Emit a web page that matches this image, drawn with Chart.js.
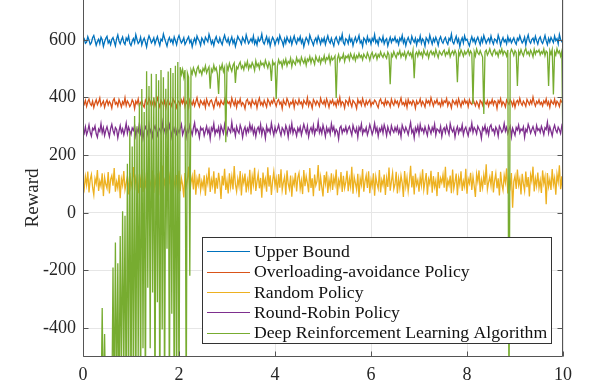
<!DOCTYPE html>
<html>
<head>
<meta charset="utf-8">
<script src="https://cdn.jsdelivr.net/npm/chart.js@4"></script>
<style>html,body{margin:0;padding:0;background:#fff;}canvas{display:block;}</style>
</head>
<body>
<canvas id="c" width="600" height="390"></canvas>
<script>
const xTicks = [0, 2, 4, 6, 8, 10];
const yTicks = [-400, -200, 0, 200, 400, 600];
const yAxisTitle = 'Reward';
const seriesNames = ['Upper Bound', 'Overloading-avoidance Policy', 'Random Policy', 'Round-Robin Policy', 'Deep Reinforcement Learning Algorithm'];
const seriesColors = ['#0072BD', '#D95319', '#EDB120', '#7E2F8E', '#77AC30'];
const xStep = 0.025;

const upperBound = [
596,603,588,592,611,599,584,590,607,615,598,581,594,602,587,609,600,577,593,605,
612,589,597,583,601,608,594,579,603,617,596,586,599,610,591,584,606,598,613,588,
580,595,604,590,618,601,587,593,609,582,597,606,592,575,600,614,603,589,596,607,
585,599,611,594,580,602,596,620,605,591,578,598,608,593,601,586,610,597,583,604,
615,600,589,596,607,584,592,603,611,590,599,576,594,605,588,613,602,595,581,606,
598,587,609,601,593,619,604,586,597,580,600,611,594,589,606,592,583,603,616,599,
591,605,584,597,610,588,600,577,594,612,603,596,585,608,599,590,617,601,587,595,
604,592,613,586,598,582,607,595,601,620,593,585,599,611,589,604,578,596,609,600,
583,597,606,590,615,602,594,579,603,588,610,598,591,607,584,600,613,595,586,605,
597,611,589,601,576,594,608,599,587,616,603,592,581,598,606,590,612,600,585,603,
593,607,584,600,614,596,588,605,591,579,602,610,595,586,608,598,619,590,583,604,
599,587,612,594,603,580,597,609,592,601,615,589,596,577,606,600,588,611,594,602,
585,605,596,618,590,599,583,607,601,593,611,586,598,604,579,595,609,591,603,597,
610,592,600,584,606,597,615,589,602,580,598,608,594,587,612,599,591,605,582,601,
594,613,588,603,596,578,607,600,590,616,599,585,604,593,609,597,581,602,611,595,
588,601,608,592,584,605,598,620,593,586,600,612,591,603,577,596,607,589,614,598,
602,590,579,597,611,594,604,587,600,609,595,583,606,592,615,601,588,598,605,591,
613,596,585,603,599,590,616,602,581,597,608,593,600,586,611,594,604,589,598,607,
592,584,605,598,614,600,589,596,609,582,603,617,595,588,601,606,591,612,597,585,
603,610,594,587,600,615,596,583,605,592,608,599,590,613,597,604,586,618,601,594,
599];

const overloadingAvoidance = [
383,376,390,369,385,394,378,372,387,365,381,392,375,384,398,371,380,388,366,382,
391,374,386,379,363,389,396,377,383,370,393,381,367,385,376,399,372,388,380,368,
376,392,384,361,387,378,395,370,382,389,374,366,391,383,377,397,386,369,380,394,
371,385,398,379,367,390,382,374,388,362,384,393,376,381,370,396,387,378,365,389,
384,373,391,380,396,369,386,377,364,392,383,375,389,371,385,399,379,368,390,382,
375,388,366,394,381,372,387,391,378,363,385,397,374,383,369,390,380,376,393,367,
389,379,385,370,398,384,373,391,366,387,380,395,372,382,376,361,388,394,377,384,
368,392,381,376,389,364,386,398,375,383,371,390,379,367,394,385,373,388,380,396,
382,370,387,393,377,384,362,391,380,374,396,386,369,383,378,392,365,389,381,375,
394,378,384,367,390,382,376,399,371,386,379,363,393,385,374,388,381,370,397,383,
377,389,372,395,383,366,388,380,392,375,384,369,391,378,400,372,386,381,364,390,
385,374,397,381,368,390,384,377,362,393,380,387,373,396,382,370,389,376,385,392,
370,383,378,391,386,374,365,388,395,379,383,371,392,376,387,381,368,394,380,373,
391,380,387,369,384,398,376,382,372,389,366,393,379,385,374,390,383,363,388,377,
382,395,373,386,378,367,392,381,388,375,399,384,370,387,380,393,376,382,369,391,
374,388,383,396,371,385,379,364,391,384,376,389,372,395,381,368,387,378,393,380,
387,369,392,380,376,394,383,371,386,378,365,390,384,373,398,382,377,389,370,385,
379,393,375,388,384,362,389,381,396,372,385,379,367,391,383,376,392,385,371,388,
366,384,390,377,397,381,373,387,380,369,393,384,375,389,378,401,382,370,386,379,
392,376,383,371,388,380,395,374,385,366,390,382,377,394,372,387,381,369,391,384,
383];

const randomPolicy = [
104,82,126,97,143,71,115,133,88,62,119,101,148,76,110,92,137,58,123,99,
85,141,67,116,129,94,155,73,108,86,132,51,118,96,145,80,103,127,64,139,
90,112,159,78,121,100,68,134,87,150,72,113,95,142,55,124,106,83,147,69,
117,93,136,61,128,102,164,79,111,89,140,57,125,98,74,152,107,84,131,66,
146,75,120,97,53,138,91,114,160,70,105,127,81,149,63,118,96,135,77,109,
88,130,59,123,101,157,72,115,93,144,66,121,84,139,105,48,128,95,153,79,
111,67,137,90,126,81,162,99,74,118,92,145,60,124,103,136,71,113,87,149,
64,127,98,156,76,108,135,85,121,52,140,96,117,73,158,91,130,62,110,143,
94,119,70,134,87,151,78,106,125,63,147,100,82,129,56,116,97,139,74,122,
138,83,112,65,148,92,127,104,71,155,86,120,58,133,95,110,166,77,124,89,
57,131,101,143,69,115,88,137,79,122,99,150,61,113,94,141,72,128,85,106,
146,75,118,91,160,66,124,103,80,135,54,119,97,152,73,109,130,86,144,68,
115,93,137,59,126,101,84,148,71,114,96,133,62,121,90,157,77,108,139,82,
99,142,67,118,86,130,104,55,145,92,123,75,111,163,88,128,64,136,97,113,
73,125,95,151,80,109,138,63,117,100,146,70,127,90,112,58,141,85,120,104,
132,87,160,74,113,96,129,68,150,83,107,136,61,122,98,144,76,110,91,153,
66,118,102,139,79,126,93,55,134,108,147,72,115,88,131,97,168,81,106,125,
94,145,71,112,137,85,120,60,142,99,78,130,105,154,67,116,91,138,18,109,
128,83,150,96,117,64,135,101,76,143,89,124,57,132,110,160,74,119,93,140,
86,113,69,147,102,125,30,138,91,116,79,152,98,121,63,134,107,165,82,127,
60];

const roundRobin = [
288,276,298,271,284,305,279,266,293,287,301,274,262,290,282,309,277,295,268,286,
299,281,264,292,307,285,273,296,289,260,283,302,278,291,270,288,311,276,297,284,
272,294,286,303,267,289,280,310,275,293,258,284,298,287,271,306,279,292,265,290,
301,283,269,295,288,276,313,282,290,266,297,279,305,286,263,293,281,299,274,288,
278,292,307,271,285,298,264,289,280,303,286,270,294,312,277,291,283,261,296,287,
293,268,284,300,276,290,257,295,285,309,272,288,280,297,266,302,289,275,306,282,
270,296,288,279,314,283,291,267,299,284,276,304,290,262,287,298,273,293,281,308,
286,301,274,292,265,289,297,280,306,271,294,285,259,300,282,291,277,311,288,269,
297,279,290,305,283,268,295,287,274,302,289,263,298,281,310,276,292,284,267,294,
282,298,270,288,307,291,277,300,264,286,296,279,303,272,290,285,315,278,293,275,
304,287,265,296,280,292,273,309,285,298,271,289,282,256,294,301,276,290,283,299,
277,291,300,284,269,303,288,279,294,262,297,286,308,274,289,281,296,270,285,306,
290,272,287,310,281,295,266,292,283,300,277,305,290,268,298,284,273,302,287,279,
296,283,299,275,289,264,304,291,280,297,286,271,293,313,278,288,260,295,282,301,
273,306,285,292,277,298,283,268,301,289,275,296,284,307,270,291,287,279,299,265,
288,295,278,302,286,272,309,290,281,294,263,287,299,276,292,284,305,271,289,297,
280,267,293,285,311,279,296,288,274,300,291,282,258,295,286,303,277,292,270,298,
305,284,290,273,297,288,266,301,292,279,287,310,283,296,275,289,300,264,293,281,
269,296,287,304,278,291,285,298,262,290,281,307,294,276,288,299,284,272,303,286,
292,279,300,287,271,295,289,314,277,298,283,267,291,304,286,278,297,288,275,301,
286];

const deepRL = [
-700,-700,-700,-700,-700,-700,-700,-700,-700,-700,
-700,-700,-700,-700,-700,-700,-330,-700,-420,-700,
-700,-700,-700,-700,-700,-190,-700,-103,-650,-175,
-700,-80,-600,5,-560,-10,-700,170,-640,284,
-700,230,-660,336,-700,300,-520,380,-700,429,
-470,350,-700,491,-260,440,-470,482,-276,400,
-700,481,-310,460,-700,495,-405,470,-700,430,
-125,490,-700,502,-350,485,-700,510,-700,523,
-700,505,480,498,470,495,-700,485,470,-218,
495,482,503,490,476,499,508,487,494,479,
501,492,510,485,497,506,430,498,489,512,
494,503,481,412,507,498,515,490,504,245,
509,496,518,503,491,512,520,450,506,499,
514,523,501,510,496,519,507,525,498,513,
504,521,511,494,527,508,517,500,524,513,
519,506,529,515,502,522,511,457,526,514,
520,395,509,531,518,524,505,528,516,533,
510,525,519,536,507,529,521,514,538,523,
531,516,540,527,519,535,512,533,526,542,
520,537,529,515,543,531,524,539,518,535,
528,545,522,538,532,547,519,541,530,536,
544,398,534,549,527,540,536,551,525,543,
538,547,530,552,541,533,549,528,545,537,
553,539,546,531,550,542,536,555,544,529,
548,556,537,545,552,533,549,541,558,546,
539,553,544,536,557,548,446,551,542,559,
547,537,555,549,562,540,553,545,558,535,
551,560,546,554,539,563,467,550,557,543,
561,548,556,540,564,552,546,559,537,555,
562,549,557,544,566,551,538,560,553,547,
558,564,545,556,550,567,541,554,561,548,
563,552,453,559,546,565,555,543,560,550,
557,566,548,561,553,377,559,544,568,555,
549,562,551,540,343,558,564,547,556,569,
553,545,560,566,550,557,542,563,554,568,
548,561,556,544,565,-700,552,567,559,546,
562,555,440,560,549,566,553,544,561,570,
551,558,546,564,555,541,567,550,562,557,
565,548,559,552,568,545,561,556,440,563,
550,566,410,558,547,569,554,561,543,560,
200];

const allSeries = [upperBound, overloadingAvoidance, randomPolicy, roundRobin, deepRL];
function toPoints(arr) { return arr.map((v, i) => ({ x: Math.round(i * xStep * 1000) / 1000, y: v })); }

const FONT = "'Liberation Serif', 'Times New Roman', serif";
const TXT = '#262626';
const AXC = '#555555';

const decor = {
  id: 'decor',
  afterDatasetsDraw(chart) {
    const { ctx, chartArea: a, scales: { x, y } } = chart;
    ctx.save();
    ctx.strokeStyle = AXC;
    ctx.lineWidth = 1;
    const L = Math.round(a.left) + 0.5, R = Math.round(a.right) - 0.5, B = Math.round(a.bottom) - 0.5, T = a.top;
    ctx.beginPath();
    ctx.moveTo(L, T); ctx.lineTo(L, B); ctx.lineTo(R, B); ctx.lineTo(R, T);
    ctx.stroke();
    ctx.beginPath();
    yTicks.forEach(v => {
      const py = Math.round(y.getPixelForValue(v)) + 0.5;
      ctx.moveTo(L, py); ctx.lineTo(L + 5, py);
      ctx.moveTo(R, py); ctx.lineTo(R - 5, py);
    });
    xTicks.forEach(v => {
      const px = Math.round(x.getPixelForValue(v)) + 0.5;
      ctx.moveTo(px, B); ctx.lineTo(px, B - 5);
    });
    ctx.stroke();
    ctx.restore();
  },
  afterDraw(chart) {
    const { ctx } = chart;
    ctx.save();
    ctx.translate(33, 198);
    ctx.rotate(-Math.PI / 2);
    ctx.font = '19px ' + FONT;
    ctx.fillStyle = TXT;
    ctx.textAlign = 'center';
    ctx.textBaseline = 'middle';
    ctx.fillText(yAxisTitle, 0, 0);
    ctx.restore();
    ctx.save();
    const bx = 202.5, by = 237.5, bw = 349, bh = 106;
    ctx.fillStyle = '#ffffff';
    ctx.fillRect(bx, by, bw, bh);
    ctx.strokeStyle = '#333333';
    ctx.lineWidth = 1;
    ctx.strokeRect(bx, by, bw, bh);
    const rows = [251, 271.5, 292, 312, 332.5];
    ctx.font = '17.7px ' + FONT;
    ctx.textAlign = 'left';
    ctx.textBaseline = 'middle';
    seriesNames.forEach((name, i) => {
      const ry = rows[i];
      ctx.strokeStyle = seriesColors[i];
      ctx.lineWidth = 1;
      ctx.beginPath();
      ctx.moveTo(207, Math.round(ry) + 0.5);
      ctx.lineTo(250, Math.round(ry) + 0.5);
      ctx.stroke();
      ctx.fillStyle = '#111111';
      ctx.fillText(name, 254, ry + 1);
    });
    ctx.restore();
  }
};

const order = [5, 4, 3, 2, 1];
const datasets = allSeries.map((arr, i) => ({
  label: seriesNames[i],
  data: toPoints(arr),
  borderColor: seriesColors[i],
  backgroundColor: seriesColors[i],
  borderWidth: 1.3,
  pointRadius: 0,
  tension: 0,
  fill: false,
  order: order[i]
}));

new Chart(document.getElementById('c'), {
  type: 'line',
  data: { datasets },
  options: {
    responsive: false,
    animation: false,
    events: [],
    layout: { padding: { left: 0, right: 37, top: 0, bottom: 0 } },
    plugins: { legend: { display: false }, tooltip: { enabled: false } },
    scales: {
      x: {
        type: 'linear', min: 0, max: 10,
        afterBuildTicks: s => { s.ticks = xTicks.map(v => ({ value: v })); },
        afterFit: s => { s.height = 33; s.paddingLeft = 0; s.paddingRight = 0; },
        grid: { color: '#e6e6e6', drawTicks: false, lineWidth: 1 },
        border: { display: false },
        ticks: { font: { family: FONT, size: 18 }, color: TXT, padding: 7, maxRotation: 0 }
      },
      y: {
        type: 'linear', min: -500, max: 738,
        afterBuildTicks: s => { s.ticks = yTicks.map(v => ({ value: v })); },
        afterFit: s => { s.width = 83; s.paddingTop = 0; s.paddingBottom = 0; },
        grid: { color: '#e6e6e6', drawTicks: false, lineWidth: 1 },
        border: { display: false },
        ticks: { font: { family: FONT, size: 18 }, color: TXT, padding: 7 }
      }
    }
  },
  plugins: [decor]
});
</script>
</body>
</html>
